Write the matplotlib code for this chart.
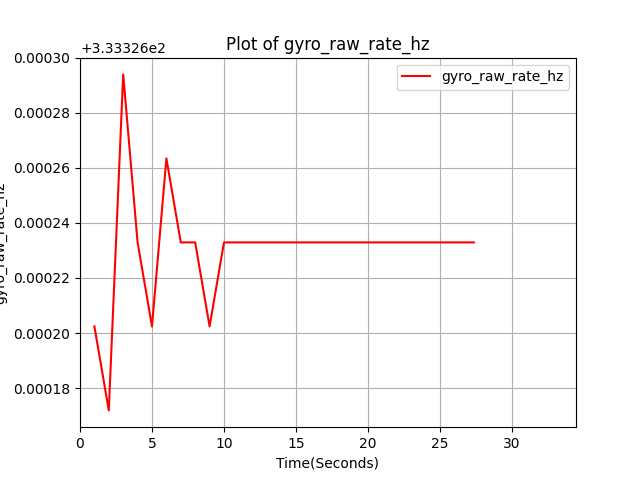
import matplotlib
matplotlib.use("Agg")
import matplotlib.pyplot as plt

time_s = [1, 2, 3, 4, 5, 6, 7, 8, 9, 10, 11, 12, 13, 14, 15, 16, 17, 18, 19, 20,
          21, 22, 23, 24, 25, 26, 27, 27.36]
rate_hz = [333.3262024, 333.3261719, 333.3262939, 333.3262329, 333.3262024,
           333.3262634, 333.3262329, 333.3262329, 333.3262024] + [333.3262329] * 19

fig, ax = plt.subplots(figsize=(6.4, 4.8), dpi=100)
ax.plot(time_s, rate_hz, color="red", label="gyro_raw_rate_hz")
ax.set_xlim(0, 34.45)
ax.set_title("Plot of gyro_raw_rate_hz")
ax.set_xlabel("Time(Seconds)")
ax.set_ylabel("gyro_raw_rate_hz")
ax.grid(True)
ax.legend(loc="upper right")
fig.savefig("out.png")
